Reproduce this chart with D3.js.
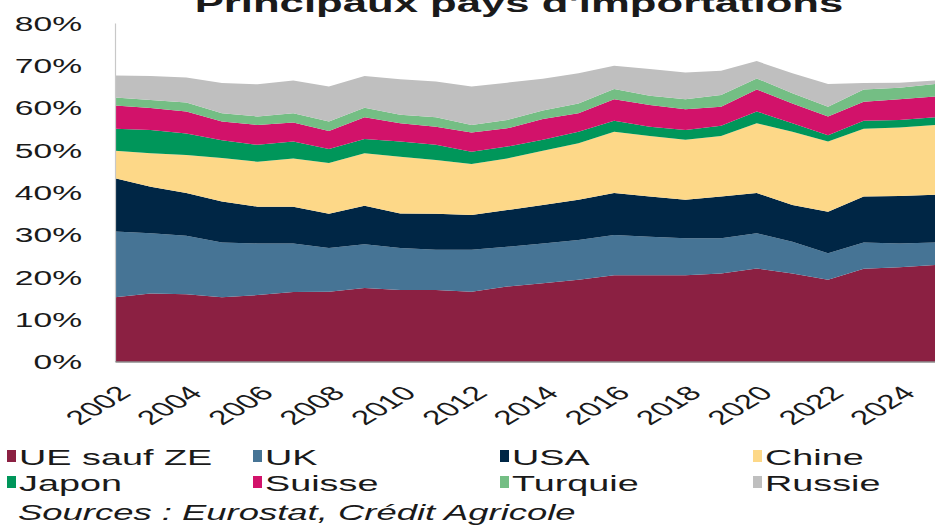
<!DOCTYPE html>
<html>
<head>
<meta charset="utf-8">
<script src="https://cdn.jsdelivr.net/npm/d3@7"></script>
<style>
  body { margin: 0; background: #fff; }
  svg text { font-family: "Liberation Sans", Arial, sans-serif; fill: #1a1a1a; }
</style>
</head>
<body>
<svg id="chart" width="935" height="526"></svg>
<script>
// Share of imports by origin (% of total), stacked
const years = [2002, 2003, 2004, 2005, 2006, 2007, 2008, 2009, 2010, 2011, 2012, 2013,
               2014, 2015, 2016, 2017, 2018, 2019, 2020, 2021, 2022, 2023, 2024, 2025];
const tickYears = [2002, 2004, 2006, 2008, 2010, 2012, 2014, 2016, 2018, 2020, 2022, 2024];
const yTicks = [0, 10, 20, 30, 40, 50, 60, 70, 80];

const seriesNames = ["UE sauf ZE", "UK", "USA", "Chine", "Japon", "Suisse", "Turquie", "Russie"];
const seriesColors = ["#8b2042", "#467495", "#002645", "#fdd888", "#00965a", "#d2126a", "#74be84", "#bfbfbf"];

const ueSaufZE = [15.2, 16.1, 15.9, 15.2, 15.7, 16.4, 16.5, 17.4, 16.9, 16.9, 16.5, 17.7,
                  18.5, 19.3, 20.4, 20.4, 20.4, 20.8, 22.0, 20.8, 19.3, 21.9, 22.3, 22.8];
const uk       = [15.5, 14.2, 13.8, 12.9, 12.2, 11.5, 10.3, 10.3, 9.9, 9.5, 9.9, 9.4,
                  9.4, 9.4, 9.5, 9.1, 8.7, 8.3, 8.3, 7.5, 6.3, 6.2, 5.6, 5.3];
const usa      = [12.6, 11.0, 10.1, 9.7, 8.7, 8.7, 8.1, 9.1, 8.2, 8.5, 8.2, 8.7,
                  9.1, 9.5, 9.9, 9.5, 9.1, 9.9, 9.5, 8.7, 9.8, 10.9, 11.2, 11.3];
const chine    = [6.5, 7.9, 9.0, 10.3, 10.6, 11.4, 12.0, 12.4, 13.4, 12.7, 12.1, 12.2,
                  12.8, 13.4, 14.5, 14.3, 14.2, 14.3, 16.5, 17.3, 16.6, 16.0, 16.2, 16.5];
const japon    = [5.2, 5.5, 5.1, 4.2, 4.0, 4.0, 3.3, 3.4, 3.6, 3.6, 2.9, 2.8,
                  2.6, 2.7, 2.6, 2.2, 2.3, 2.4, 2.8, 2.0, 1.5, 1.9, 1.8, 1.8];
const suisse   = [5.5, 5.2, 5.2, 4.4, 4.7, 4.5, 4.3, 5.1, 4.3, 4.3, 4.5, 4.3,
                  4.9, 4.4, 5.1, 5.1, 4.9, 4.5, 5.2, 4.7, 4.4, 4.5, 4.9, 4.9];
const turquie  = [1.9, 1.9, 2.1, 2.0, 2.0, 2.2, 2.2, 2.3, 2.0, 2.2, 1.8, 2.0,
                  2.0, 2.3, 2.4, 2.2, 2.4, 2.8, 2.6, 2.4, 2.3, 2.9, 2.7, 3.0];
const russie   = [5.2, 5.7, 5.9, 7.1, 7.6, 7.7, 8.3, 7.5, 8.4, 8.5, 9.1, 8.8,
                  7.5, 7.1, 5.5, 6.3, 6.3, 5.7, 4.1, 4.7, 5.4, 1.5, 1.2, 0.8];

const seriesValues = [ueSaufZE, uk, usa, chine, japon, suisse, turquie, russie];

// Row objects for d3.stack
const rows = years.map((yr, i) => {
  const r = { year: yr };
  seriesNames.forEach((name, k) => { r[name] = seriesValues[k][i]; });
  return r;
});

// Horizontal stretch applied to every text element
const SX = 1.68;

const svg = d3.select("#chart");
const plot = { left: 115, right: 935, top: 23, bottom: 361.5 };

const x = d3.scaleLinear().domain([years[0], years[years.length - 1]]).range([plot.left, plot.right]);
const y = d3.scaleLinear().domain([0, 80]).range([plot.bottom, plot.top]);

const stacked = d3.stack().keys(seriesNames)(rows);

const area = d3.area()
  .x(d => x(d.data.year))
  .y0(d => y(d[0]))
  .y1(d => y(d[1]));

svg.append("g")
  .selectAll("path")
  .data(stacked)
  .join("path")
  .attr("d", area)
  .attr("fill", (d, i) => seriesColors[i]);

// Y axis
const yAxis = svg.append("g")
  .attr("transform", `translate(${plot.left},0)`)
  .call(d3.axisLeft(y).tickValues(yTicks).tickSize(0).tickPadding(0).tickFormat(d => d + "%"));
yAxis.select(".domain").attr("stroke", "#c8c8c8").attr("stroke-width", 1.2);
yAxis.selectAll("text")
  .attr("x", 0)
  .attr("dy", "0.36em")
  .attr("text-anchor", "end")
  .attr("font-size", 20)
  .attr("fill", "#1a1a1a")
  .attr("transform", `translate(-33,0) scale(${SX},1)`);

// X axis
const xAxis = svg.append("g")
  .attr("transform", `translate(0,${plot.bottom})`)
  .call(d3.axisBottom(x).tickValues(tickYears).tickSize(0).tickSizeOuter(0).tickFormat(d3.format("d")));
xAxis.select(".domain").attr("stroke", "#555").attr("stroke-width", 1.2);
xAxis.selectAll("text")
  .attr("x", 0)
  .attr("y", 0)
  .attr("dy", 0)
  .attr("text-anchor", "end")
  .attr("font-size", 20)
  .attr("fill", "#1a1a1a")
  .attr("transform", `translate(17,33) scale(${SX},1) rotate(-45)`);

// Title
svg.append("text")
  .attr("transform", `translate(519,12) scale(${SX},1)`)
  .attr("text-anchor", "middle")
  .attr("font-size", 26)
  .attr("font-weight", "bold")
  .text("Principaux pays d'importations");

// Legend: two rows of four
const legendCols = [19, 265, 512, 765];
const legendRows = [465, 491];
const legend = svg.append("g")
  .selectAll("g")
  .data(seriesNames)
  .join("g")
  .attr("transform", (d, i) => `translate(${legendCols[i % 4]},${legendRows[Math.floor(i / 4)]})`);
legend.append("rect")
  .attr("x", -12)
  .attr("y", -15)
  .attr("width", 9)
  .attr("height", 12)
  .attr("fill", (d, i) => seriesColors[i]);
legend.append("text")
  .attr("transform", `scale(${SX},1)`)
  .attr("font-size", 22.5)
  .text(d => d);

// Source line
svg.append("text")
  .attr("transform", `translate(18,520) scale(${SX},1)`)
  .attr("font-size", 21.7)
  .attr("font-style", "italic")
  .text("Sources : Eurostat, Crédit Agricole");
</script>
</body>
</html>
